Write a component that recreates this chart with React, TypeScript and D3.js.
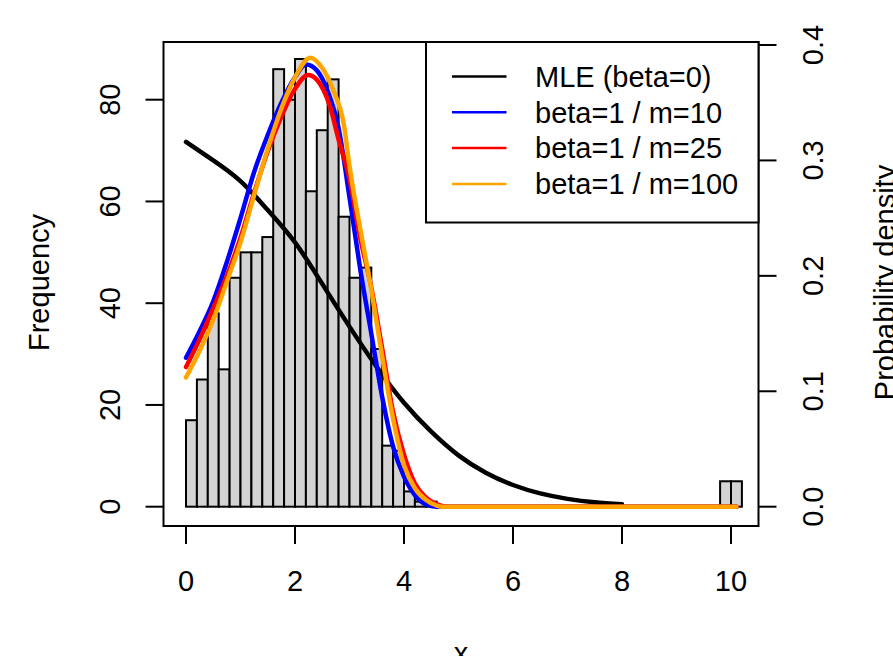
import React from "react";
import * as d3 from "d3";

// Histogram: bins of width 0.2 starting at 0
const binWidth = 0.2;
const counts = [17, 25, 38, 27, 45, 50, 50, 53, 86, 80, 88, 62, 74, 84, 57, 45, 47, 31, 12, 11, 3, 1, 1,
  0, 0, 0, 0, 0, 0, 0, 0, 0, 0, 0, 0, 0, 0, 0, 0, 0, 0, 0, 0, 0, 0, 0, 0, 0, 0,
  5, 5];

// Density curves (x, density)
const mleX = [0, 0.5, 1, 1.5, 2, 2.5, 3, 3.5, 4, 4.5, 5, 5.5, 6, 6.5, 7, 7.5, 8];
const mleY = [0.316, 0.300, 0.282, 0.257, 0.229, 0.193, 0.156, 0.121, 0.090, 0.065, 0.0445, 0.0295, 0.0188, 0.0115, 0.0068, 0.0038, 0.0021];

const m10X = [0, 0.25, 0.5, 0.75, 1, 1.25, 1.5, 1.75, 2, 2.2, 2.4, 2.6, 2.8, 3, 3.2, 3.4, 3.6, 3.8, 4, 4.2, 4.4, 4.6, 6, 8, 10.1];
const m10Y = [0.129, 0.152, 0.178, 0.212, 0.250, 0.290, 0.322, 0.350, 0.372, 0.383, 0.378, 0.360, 0.328, 0.268, 0.205, 0.150, 0.095, 0.052, 0.026, 0.010, 0.002, 0, 0, 0, 0];

const m25X = [0, 0.25, 0.5, 0.75, 1, 1.25, 1.5, 1.75, 2, 2.24, 2.4, 2.64, 2.8, 3, 3.2, 3.4, 3.6, 3.8, 4, 4.2, 4.4, 4.6, 4.8, 6, 8, 10.1];
const m25Y = [0.121, 0.145, 0.172, 0.200, 0.233, 0.272, 0.308, 0.338, 0.362, 0.374, 0.370, 0.347, 0.318, 0.284, 0.232, 0.190, 0.137, 0.082, 0.045, 0.020, 0.008, 0.002, 0, 0, 0, 0];

const m100X = [0, 0.25, 0.5, 0.75, 1, 1.25, 1.5, 1.75, 2, 2.28, 2.5, 2.7, 2.9, 3, 3.2, 3.4, 3.6, 3.8, 4, 4.2, 4.4, 4.6, 4.7, 6, 8, 10.1];
const m100Y = [0.112, 0.135, 0.162, 0.195, 0.229, 0.270, 0.310, 0.345, 0.372, 0.389, 0.380, 0.361, 0.330, 0.295, 0.240, 0.188, 0.130, 0.076, 0.036, 0.016, 0.006, 0.001, 0, 0, 0, 0];

const seriesNames = ["MLE (beta=0)", "beta=1 / m=10", "beta=1 / m=25", "beta=1 / m=100"];
const seriesColors = ["#000000", "#0000ff", "#ff0000", "#ffa500"];

const xTicks = [0, 2, 4, 6, 8, 10];
const freqTicks = [0, 20, 40, 60, 80];
const densTicks = [0, 0.1, 0.2, 0.3, 0.4];

export default function App() {
  const W = 893, H = 656;
  const box = { l: 163.5, r: 758.5, t: 42, b: 526 };
  const x = d3.scaleLinear().domain([0, 10]).range([186, 731]);
  const yF = d3.scaleLinear().domain([0, 80]).range([506.7, 99.7]);
  const yD = d3.scaleLinear().domain([0, 0.4]).range([506.7, 45]);
  const fs = 29;
  const font = "'Liberation Sans', Arial, Helvetica, sans-serif";

  const mono = d3.line<[number, number]>()
    .x(d => x(d[0]))
    .y(d => yD(d[1]))
    .curve(d3.curveMonotoneX);
  const smooth = d3.line<[number, number]>()
    .x(d => x(d[0]))
    .y(d => yD(d[1]))
    .curve(d3.curveNatural);

  const series: [number[], number[]][] = [[mleX, mleY], [m10X, m10Y], [m25X, m25Y], [m100X, m100Y]];

  const legend = { l: 426, t: 42, r: 758.5, b: 222.5 };

  return (
    <svg width={W} height={H} style={{ position: "absolute", left: 0, top: 0, background: "#fff" }}
      fontFamily={font}>
      <rect x={0} y={0} width={W} height={H} fill="#fff" />
      {/* histogram bars */}
      {counts.map((c, i) => {
        const x0 = x(i * binWidth), x1 = x((i + 1) * binWidth);
        return <rect key={i} x={x0} y={yF(c)} width={x1 - x0} height={yF(0) - yF(c)}
          fill="#d3d3d3" stroke="#000" strokeWidth={2} />;
      })}
      {/* curves */}
      {series.map((s, i) => {
        const pts = s[0].map((v, j) => [v, s[1][j]]) as [number, number][];
        const gen = i === 0 ? smooth : mono;
        return (
          <path key={i} d={gen(pts) || ""}
            fill="none" stroke={seriesColors[i]} strokeWidth={4.5} strokeLinecap="round" strokeLinejoin="round" />
        );
      })}
      {/* box */}
      <rect x={box.l} y={box.t} width={box.r - box.l} height={box.b - box.t} fill="none" stroke="#000" strokeWidth={2} />
      {/* x axis */}
      {xTicks.map(t => (
        <g key={t}>
          <line x1={x(t)} x2={x(t)} y1={box.b} y2={box.b + 18} stroke="#000" strokeWidth={2} />
          <text x={x(t)} y={591} fontSize={fs} textAnchor="middle">{t}</text>
        </g>
      ))}
      <text x={(box.l + box.r) / 2} y={663} fontSize={fs} textAnchor="middle">x</text>
      {/* left axis */}
      {freqTicks.map(t => (
        <g key={t}>
          <line x1={box.l - 18} x2={box.l} y1={yF(t)} y2={yF(t)} stroke="#000" strokeWidth={2} />
          <text transform={`translate(120,${yF(t)}) rotate(-90)`} fontSize={fs} textAnchor="middle">{t}</text>
        </g>
      ))}
      <text transform={`translate(48.5,282.5) rotate(-90)`} fontSize={fs} textAnchor="middle">Frequency</text>
      {/* right axis */}
      {densTicks.map(t => (
        <g key={t}>
          <line x1={box.r} x2={box.r + 18} y1={yD(t)} y2={yD(t)} stroke="#000" strokeWidth={2} />
          <text transform={`translate(823,${yD(t)}) rotate(-90)`} fontSize={fs} textAnchor="middle">{t.toFixed(1)}</text>
        </g>
      ))}
      <text transform={`translate(895,282.5) rotate(-90)`} fontSize={fs} textAnchor="middle">Probability density</text>
      {/* legend */}
      <rect x={legend.l} y={legend.t} width={legend.r - legend.l} height={legend.b - legend.t}
        fill="#fff" stroke="#000" strokeWidth={2} />
      {seriesNames.map((n, i) => {
        const cy = 76.5 + i * 35.8;
        return (
          <g key={n}>
            <line x1={452} x2={506.5} y1={cy} y2={cy} stroke={seriesColors[i]} strokeWidth={2.5} />
            <text x={535} y={cy + 10.3} fontSize={fs} fill="#000">{n}</text>
          </g>
        );
      })}
    </svg>
  );
}
